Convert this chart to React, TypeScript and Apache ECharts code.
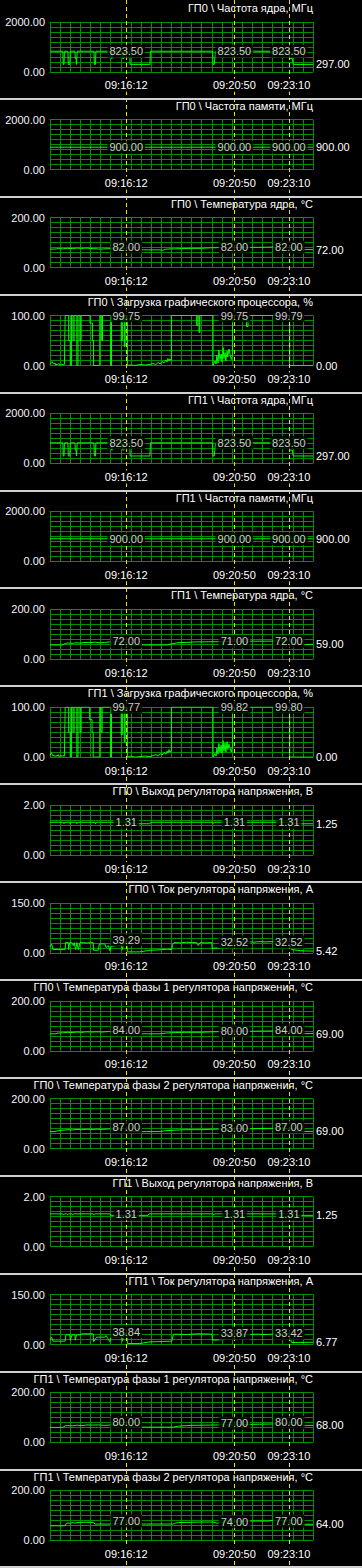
import React, { useEffect, useRef } from "react";
import * as echarts from "echarts";

// time axis: seconds since 09:12:56
const START_SEC = 9 * 3600 + 12 * 60 + 56;
const SPAN = 676;
const markerTimes = [196, 474, 614];

const titles = [
  "ГП0 \\ Частота ядра, МГц",
  "ГП0 \\ Частота памяти, МГц",
  "ГП0 \\ Температура ядра, °C",
  "ГП0 \\ Загрузка графического процессора, %",
  "ГП1 \\ Частота ядра, МГц",
  "ГП1 \\ Частота памяти, МГц",
  "ГП1 \\ Температура ядра, °C",
  "ГП1 \\ Загрузка графического процессора, %",
  "ГП0 \\ Выход регулятора напряжения, В",
  "ГП0 \\ Ток регулятора напряжения, А",
  "ГП0 \\ Температура фазы 1 регулятора напряжения, °C",
  "ГП0 \\ Температура фазы 2 регулятора напряжения, °C",
  "ГП1 \\ Выход регулятора напряжения, В",
  "ГП1 \\ Ток регулятора напряжения, А",
  "ГП1 \\ Температура фазы 1 регулятора напряжения, °C",
  "ГП1 \\ Температура фазы 2 регулятора напряжения, °C",
];

const yMax = [2000, 2000, 200, 100, 2000, 2000, 200, 100, 2, 150, 200, 200, 2, 150, 200, 200];

const markerValues = [
  [823.5, 823.5, 823.5],
  [900, 900, 900],
  [82, 82, 82],
  [99.75, 99.75, 99.79],
  [823.5, 823.5, 823.5],
  [900, 900, 900],
  [72, 71, 72],
  [99.77, 99.82, 99.8],
  [1.31, 1.31, 1.31],
  [39.29, 32.52, 32.52],
  [84, 80, 84],
  [87, 83, 87],
  [1.31, 1.31, 1.31],
  [38.84, 33.87, 33.42],
  [80, 77, 80],
  [77, 74, 77],
];

const gpu0CoreClock = [
  [0, 823.5], [33, 823.5], [34, 297], [36, 297], [37, 823.5], [46, 823.5], [47, 297], [51, 297], [52, 823.5],
  [64, 823.5], [65, 533], [67, 533], [68, 297], [70, 823.5], [113, 823.5], [114, 297], [117, 297], [118, 823.5],
  [157, 823.5], [158, 533], [160, 533], [161, 823.5], [186, 823.5], [187, 533], [190, 533], [191, 823.5],
  [205, 823.5], [206, 297], [257, 297], [258, 823.5], [418, 823.5], [419, 297], [422, 297], [426, 823.5],
  [615, 823.5], [616, 533], [623, 533], [625, 297], [676, 297],
];
const gpu0MemClock = [[0, 900], [200, 900], [400, 900], [676, 900]];
const gpu0CoreTemp = [
  [0, 74], [13, 74], [21, 76], [33, 75], [44, 77], [57, 76], [69, 78], [82, 77], [95, 78], [108, 76], [121, 75],
  [129, 74], [144, 75], [157, 76], [193, 76], [211, 71], [283, 71], [290, 69], [298, 74], [321, 75], [339, 76],
  [360, 77], [386, 77], [411, 79], [437, 80], [463, 80], [501, 81], [540, 81], [565, 82], [591, 81], [617, 80],
  [635, 72], [676, 72],
];
const gpu0Load = [
  [0, 2], [3, 6], [5, 8], [8, 4], [10, 3], [13, 5], [15, 1], [18, 3], [21, 2], [23, 4], [26, 1], [28, 2], [31, 3],
  [33, 1], [37, 2], [39, 100], [48, 100], [48, 50], [52, 50], [52, 0], [55, 0], [55, 100], [59, 100], [59, 50],
  [62, 50], [62, 100], [69, 100], [69, 0], [72, 0], [72, 100], [77, 100], [77, 50], [80, 50], [80, 100],
  [103, 100], [103, 85], [109, 85], [109, 50], [112, 50], [112, 0], [128, 0], [128, 100], [132, 100], [132, 50],
  [135, 50], [135, 100], [156, 100], [156, 0], [158, 0], [158, 100], [183, 100], [183, 50], [186, 50], [186, 100],
  [191, 100], [191, 38], [193, 38], [193, 100], [199, 100], [199, 0], [206, 1], [218, 0], [231, 2], [244, 1],
  [257, 2], [265, 4], [272, 2], [278, 6], [283, 3], [288, 8], [293, 5], [298, 11], [301, 7], [303, 14], [306, 9],
  [308, 13], [312, 10], [312, 100], [377, 100], [377, 80], [380, 80], [380, 100], [383, 100], [383, 66],
  [385, 66], [385, 100], [419, 100], [419, 0], [421, 4], [424, 9], [427, 3], [429, 21], [432, 5], [434, 31],
  [437, 12], [440, 23], [442, 7], [445, 36], [447, 14], [450, 26], [452, 9], [455, 29], [457, 17], [460, 33],
  [463, 22], [466, 12], [469, 20], [469, 100], [505, 100], [505, 78], [509, 78], [509, 95], [511, 95], [511, 100],
  [616, 100], [616, 0], [676, 0],
];
const gpu1CoreClock = [
  [0, 823.5], [33, 823.5], [34, 297], [36, 297], [37, 823.5], [46, 823.5], [47, 297], [51, 297], [52, 823.5],
  [64, 823.5], [65, 533], [67, 533], [68, 297], [70, 823.5], [113, 823.5], [114, 297], [117, 297], [118, 823.5],
  [157, 823.5], [158, 533], [160, 533], [161, 823.5], [186, 823.5], [187, 533], [190, 533], [191, 823.5],
  [205, 823.5], [206, 297], [257, 297], [258, 823.5], [418, 823.5], [419, 297], [422, 297], [426, 823.5],
  [615, 823.5], [616, 533], [623, 533], [625, 297], [676, 297],
];
const gpu1MemClock = [[0, 900], [200, 900], [400, 900], [676, 900]];
const gpu1CoreTemp = [
  [0, 57], [33, 57], [39, 63], [46, 65], [57, 63], [67, 66], [77, 64], [90, 67], [103, 66], [116, 68], [129, 65],
  [141, 67], [154, 69], [193, 69], [208, 57], [231, 57], [301, 57], [314, 62], [329, 66], [347, 67], [373, 69],
  [419, 70], [463, 70], [514, 72], [565, 72], [604, 74], [617, 72], [632, 59], [676, 59],
];
const gpu1Load = [
  [0, 3], [3, 9], [5, 6], [8, 2], [10, 4], [13, 1], [15, 3], [18, 2], [21, 5], [23, 1], [26, 2], [28, 4], [31, 1],
  [33, 3], [37, 2], [39, 100], [48, 100], [48, 50], [52, 50], [52, 0], [55, 0], [55, 100], [59, 100], [59, 50],
  [62, 50], [62, 100], [69, 100], [69, 0], [72, 0], [72, 100], [77, 100], [77, 50], [80, 50], [80, 100],
  [102, 100], [102, 75], [108, 75], [108, 50], [111, 50], [111, 0], [128, 0], [128, 100], [131, 100], [131, 50],
  [134, 50], [134, 100], [156, 100], [156, 0], [158, 0], [158, 100], [183, 100], [183, 45], [186, 45], [186, 100],
  [191, 100], [191, 30], [193, 30], [193, 100], [199, 100], [199, 0], [206, 2], [218, 0], [231, 1], [244, 2],
  [257, 1], [265, 3], [272, 5], [278, 2], [283, 7], [288, 4], [293, 9], [298, 6], [301, 12], [303, 8], [306, 15],
  [308, 10], [312, 12], [312, 100], [419, 100], [419, 0], [421, 3], [424, 7], [427, 2], [429, 18], [432, 6],
  [434, 27], [437, 10], [440, 24], [442, 8], [445, 33], [447, 12], [450, 28], [452, 10], [455, 31], [457, 15],
  [460, 26], [463, 18], [466, 10], [469, 22], [469, 100], [616, 100], [616, 0], [676, 0],
];
const gpu0Vddc = [
  [0, 1.31], [35, 1.31], [36, 1.25], [38, 1.31], [51, 1.31], [52, 1.25], [54, 1.31], [68, 1.31], [69, 1.25],
  [71, 1.31], [116, 1.31], [117, 1.25], [119, 1.31], [205, 1.31], [206, 1.25], [257, 1.25], [259, 1.31],
  [418, 1.31], [419, 1.25], [422, 1.31], [626, 1.31], [627, 1.25], [676, 1.25],
];
const gpu0Current = [
  [0, 18], [4, 27], [8, 10], [39, 10], [40, 31], [47, 31], [48, 10], [50, 31], [56, 31], [60, 22], [62, 31],
  [66, 10], [69, 31], [73, 10], [77, 31], [95, 30], [111, 31], [112, 8], [124, 8], [127, 27], [141, 27], [144, 16],
  [150, 22], [154, 6], [157, 19], [171, 22], [184, 22], [186, 10], [188, 22], [197, 39], [199, 3], [231, 3],
  [257, 8], [280, 9], [300, 11], [313, 10], [315, 25], [319, 31], [335, 30], [350, 32], [365, 31], [377, 31],
  [381, 22], [386, 31], [400, 30], [416, 31], [417, 13], [425, 15], [437, 13], [448, 16], [458, 14], [470, 33],
  [475, 33], [510, 34], [522, 32], [540, 34], [555, 33], [570, 34], [604, 33], [614, 32], [621, 10], [651, 6],
  [676, 5.42],
];
const gpu0Phase1Temp = [
  [0, 68], [13, 68], [21, 71], [33, 72], [46, 74], [57, 73], [69, 75], [82, 74], [95, 76], [108, 75], [121, 76],
  [135, 75], [150, 77], [190, 79], [205, 69], [231, 68], [283, 68], [298, 71], [321, 73], [347, 74], [386, 74],
  [419, 76], [450, 77], [475, 78], [510, 78], [550, 79], [591, 80], [611, 78], [627, 69], [676, 69],
];
const gpu0Phase2Temp = [
  [0, 68], [13, 69], [21, 72], [33, 74], [46, 76], [57, 75], [69, 77], [82, 76], [95, 78], [108, 77], [121, 78],
  [135, 77], [150, 79], [190, 81], [205, 69], [231, 68], [283, 69], [298, 72], [321, 74], [347, 76], [386, 76],
  [419, 78], [450, 79], [475, 80], [510, 80], [550, 81], [591, 82], [611, 80], [627, 69], [676, 69],
];
const gpu1Vddc = [
  [0, 1.31], [33, 1.31], [35, 1.27], [38, 1.31], [43, 1.31], [45, 1.27], [48, 1.31], [56, 1.31], [58, 1.27],
  [61, 1.31], [111, 1.31], [113, 1.27], [115, 1.31], [154, 1.31], [156, 1.25], [205, 1.25], [252, 1.25],
  [254, 1.31], [419, 1.31], [421, 1.27], [423, 1.31], [630, 1.31], [631, 1.25], [676, 1.25],
];
const gpu1Current = [
  [0, 13], [4, 22], [8, 10], [39, 10], [41, 29], [51, 29], [52, 13], [57, 29], [64, 29], [65, 13], [68, 29],
  [77, 29], [82, 32], [111, 32], [112, 8], [120, 22], [131, 22], [141, 22], [144, 27], [154, 8], [157, 22],
  [184, 22], [186, 10], [188, 22], [197, 38], [199, 3], [231, 3], [257, 8], [290, 9], [313, 10], [317, 29],
  [320, 31], [350, 30], [380, 32], [416, 31], [418, 13], [435, 14], [450, 15], [470, 34], [510, 30], [530, 31],
  [555, 30], [572, 31], [614, 33], [621, 6], [676, 6.77],
];
const gpu1Phase1Temp = [
  [0, 60], [33, 60], [39, 66], [46, 68], [57, 66], [69, 69], [82, 67], [95, 70], [108, 69], [121, 70], [141, 68],
  [157, 70], [190, 71], [205, 62], [231, 61], [318, 61], [330, 65], [360, 68], [400, 69], [440, 70], [475, 70],
  [510, 72], [550, 73], [580, 74], [611, 74], [627, 68], [676, 68],
];
const gpu1Phase2Temp = [
  [0, 58], [39, 58], [41, 66], [46, 70], [51, 67], [57, 71], [64, 69], [77, 72], [111, 72], [116, 65], [157, 65],
  [190, 70], [231, 65], [316, 65], [320, 68], [330, 71], [360, 72], [400, 73], [419, 73], [431, 68], [436, 72],
  [475, 74], [509, 77], [560, 77], [571, 80], [600, 80], [625, 64], [676, 64],
];

const seriesData = [
  gpu0CoreClock, gpu0MemClock, gpu0CoreTemp, gpu0Load,
  gpu1CoreClock, gpu1MemClock, gpu1CoreTemp, gpu1Load,
  gpu0Vddc, gpu0Current, gpu0Phase1Temp, gpu0Phase2Temp,
  gpu1Vddc, gpu1Current, gpu1Phase1Temp, gpu1Phase2Temp,
];

const W = 362;
const H = 1568;
const STRIDE = 97.9;
const FONT = "'Liberation Sans', Arial, sans-serif";
const GRID_GREEN = "#009000";
const LINE_GREEN = "#00ff00";

const pad = (n: number) => (n < 10 ? "0" + n : "" + n);
const fmtTime = (v: number) => {
  const s = START_SEC + Math.round(v);
  return pad(Math.floor(s / 3600)) + ":" + pad(Math.floor((s % 3600) / 60)) + ":" + pad(s % 60);
};

export default function App() {
  const ref = useRef<HTMLDivElement>(null);
  useEffect(() => {
    document.body.style.margin = "0";
    document.body.style.background = "#000";
    const chart = echarts.init(ref.current!, null, { renderer: "svg", width: W, height: H });
    const n = titles.length;
    const grids: any[] = [];
    const gridXAxes: any[] = [];
    const labelXAxes: any[] = [];
    const yAxes: any[] = [];
    const series: any[] = [];
    const titleOpts: any[] = [];
    for (let k = 0; k < n; k++) {
      const base = STRIDE * k;
      const max = yMax[k];
      grids.push({ left: 50, width: 263, top: base + 21.8, height: 50, show: false });
      titleOpts.push({
        text: titles[k],
        right: 49,
        top: base + 2.5,
        padding: 0,
        z: 2,
        textStyle: { color: "#ffffff", fontSize: 11, fontWeight: "normal", fontFamily: FONT },
      });
      // x axis that draws the vertical grid lines (below the data)
      gridXAxes.push({
        gridIndex: k,
        type: "value",
        position: "bottom",
        min: 0,
        max: SPAN,
        interval: 26,
        z: 0,
        axisLine: { show: false },
        axisTick: { show: false },
        splitLine: { show: true, lineStyle: { color: GRID_GREEN, width: 1 } },
        axisLabel: { show: false },
      });
      // x axis that only carries the time labels (above the marker lines)
      labelXAxes.push({
        gridIndex: k,
        type: "value",
        position: "bottom",
        min: 0,
        max: SPAN,
        interval: 26,
        z: 8,
        axisLine: { show: false },
        axisTick: { show: false },
        splitLine: { show: false },
        axisLabel: {
          customValues: markerTimes,
          formatter: (v: number) => fmtTime(v),
          color: "#ffffff",
          backgroundColor: "#000000",
          padding: [1, 1],
          fontSize: 11,
          fontFamily: FONT,
          margin: 7,
        },
      });
      yAxes.push({
        gridIndex: k,
        type: "value",
        min: 0,
        max: max,
        interval: max / 10,
        z: 0,
        axisLine: { show: false },
        axisTick: { show: false },
        splitLine: { show: true, lineStyle: { color: GRID_GREEN, width: 1 } },
        axisLabel: {
          formatter: (v: number) =>
            Math.abs(v) < 1e-9 || Math.abs(v - max) < 1e-9 ? v.toFixed(2) : "",
          color: "#f4f4ff",
          fontSize: 11,
          fontFamily: FONT,
          margin: 5,
        },
      });
      series.push({
        type: "line",
        xAxisIndex: k,
        yAxisIndex: k,
        data: seriesData[k],
        showSymbol: false,
        silent: true,
        z: 2,
        lineStyle: { color: LINE_GREEN, width: 1 },
        endLabel: {
          show: true,
          formatter: (p: any) => Number(p.value[1]).toFixed(2),
          color: "#ffffff",
          fontSize: 11,
          fontFamily: FONT,
          distance: 3,
        },
      });
      series.push({
        type: "scatter",
        xAxisIndex: k,
        yAxisIndex: k,
        data: markerTimes.map((t, i) => [t, markerValues[k][i]]),
        symbolSize: 1,
        silent: true,
        z: 6,
        itemStyle: { color: "rgba(0,0,0,0)" },
        label: {
          show: true,
          position: "inside",
          formatter: (p: any) => Number(p.value[1]).toFixed(2),
          color: "#ffffff",
          backgroundColor: "#000000",
          padding: [1, 2],
          fontSize: 11,
          fontFamily: FONT,
        },
      });
    }
    chart.setOption({
      animation: false,
      backgroundColor: "#000000",
      title: titleOpts,
      grid: grids,
      xAxis: gridXAxes.concat(labelXAxes),
      yAxis: yAxes,
      series,
    });

    const graphics: any[] = [];
    for (let k = 1; k < n; k++) {
      graphics.push({
        type: "rect",
        silent: true,
        z: 10,
        shape: { x: 0, y: Math.round(STRIDE * k), width: W, height: 2 },
        style: { fill: "#d0d0d0" },
      });
    }
    graphics.push({
      type: "rect",
      silent: true,
      z: 10,
      shape: { x: 0, y: H - 2, width: W, height: 2 },
      style: { fill: "#d0d0d0" },
    });
    markerTimes.forEach((t) => {
      const px = chart.convertToPixel({ xAxisIndex: 0 }, t) as number;
      const x = Math.round(px) + 0.5;
      graphics.push({
        type: "line",
        silent: true,
        z: 3,
        shape: { x1: x, y1: 0, x2: x, y2: H },
        style: { stroke: "#e6e600", lineWidth: 1, lineDash: [4, 3] },
      });
    });
    chart.setOption({ graphic: graphics });

    return () => chart.dispose();
  }, []);
  return <div ref={ref} style={{ width: W, height: H, background: "#000" }} />;
}
